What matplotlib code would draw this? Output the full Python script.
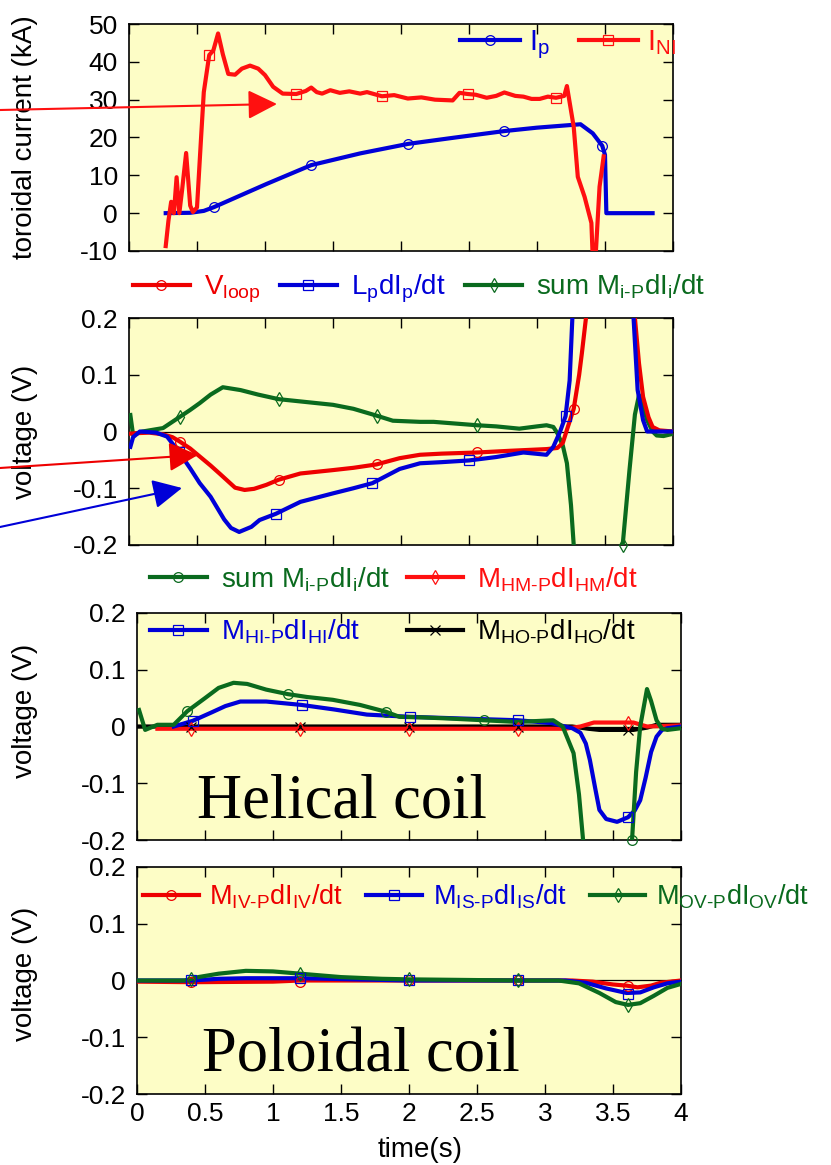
import numpy as np
import matplotlib
matplotlib.use('Agg')
import matplotlib.pyplot as plt
from matplotlib.lines import Line2D

plt.rcParams['font.family'] = ['Liberation Sans', 'DejaVu Sans']
plt.rcParams['mathtext.fontset'] = 'custom'
plt.rcParams['mathtext.rm'] = 'Liberation Sans'
plt.rcParams['mathtext.it'] = 'Liberation Sans'
plt.rcParams['mathtext.default'] = 'regular'
plt.rcParams['axes.unicode_minus'] = False

# ---- panel 1: toroidal current (kA)
ip_t = [0.27, 0.45, 0.55, 0.625, 0.77, 1.01, 1.34, 1.70, 2.05, 2.4, 2.76, 3.0, 3.32, 3.41, 3.48, 3.50, 3.51, 3.85]
ip_y = [0, 0.1, 0.6, 1.6, 3.9, 7.7, 12.7, 15.8, 18.3, 20.0, 21.7, 22.6, 23.5, 21.1, 17.8, 15.4, 0, 0]
ip_mt = [0.625, 1.34, 2.05, 2.76, 3.48]
ip_my = [1.6, 12.7, 18.3, 21.7, 17.8]

ini_t = [0.27, 0.29, 0.31, 0.33, 0.35, 0.37, 0.39, 0.42, 0.45, 0.47, 0.50, 0.53, 0.55, 0.59, 0.62, 0.655,
         0.69, 0.73, 0.78, 0.83, 0.89, 0.95, 1.0, 1.06, 1.13, 1.23, 1.30, 1.34, 1.38, 1.42, 1.48, 1.55, 1.62,
         1.70, 1.75, 1.86, 1.95, 2.05, 2.15, 2.25, 2.38, 2.43, 2.49, 2.55, 2.63, 2.70, 2.76, 2.84, 2.90, 2.96,
         3.02, 3.08, 3.14, 3.20, 3.22, 3.27, 3.30, 3.35, 3.40, 3.41, 3.43, 3.46, 3.49]
ini_y = [-8.7, -2, 3, 0, 9.5, 0, 6, 15.9, 2, 0.3, 1.5, 20, 32, 41.8, 43, 47.5,
         42, 36.8, 36.6, 38.2, 39.0, 38.2, 36.5, 33.4, 31.6, 31.5, 32.3, 33.2, 32.0, 31.6, 32.5, 31.8, 32.2,
         31.6, 32.0, 30.9, 31.2, 30.3, 30.6, 30.0, 29.8, 31.8, 31.5, 31.3, 30.5, 31.0, 31.9, 31.0, 30.8, 30.2,
         30.2, 30.8, 30.5, 31.0, 33.6, 22.8, 9.6, 4.3, -2.6, -12, -12, 7, 15]
ini_mt = [0.59, 1.23, 1.86, 2.49, 3.14]
ini_my = [41.8, 31.5, 30.9, 31.5, 30.5]

# ---- panel 2: loop voltage balance (V)
vl_t = [0.0, 0.05, 0.15, 0.25, 0.32, 0.375, 0.45, 0.52, 0.6, 0.67, 0.78, 0.85, 0.92, 1.01, 1.10, 1.26,
        1.5, 1.65, 1.82, 1.99, 2.14, 2.3, 2.56, 2.8, 3.07, 3.15, 3.19, 3.22, 3.27, 3.31, 3.33, 3.36, 3.40,
        3.70, 3.72, 3.75, 3.78, 3.82, 3.85, 3.9, 4.0]
vl_y = [-0.004, -0.003, -0.002, -0.005, -0.010, -0.018, -0.030, -0.044, -0.060, -0.075, -0.099, -0.103,
        -0.101, -0.094, -0.085, -0.074, -0.068, -0.064, -0.058, -0.047, -0.041, -0.039, -0.037, -0.034,
        -0.031, -0.029, -0.02, 0.003, 0.040, 0.10, 0.138, 0.2, 0.6,
        0.6, 0.2, 0.12, 0.061, 0.025, 0.008, 0.002, 0.0]
vl_mt = [0.375, 1.10, 1.82, 2.56, 3.27]
vl_my = [-0.018, -0.085, -0.058, -0.037, 0.040]

lp_t = [0.01, 0.03, 0.08, 0.2, 0.28, 0.37, 0.45, 0.52, 0.6, 0.7, 0.75, 0.81, 0.9, 0.96, 1.08, 1.26, 1.5,
        1.65, 1.79, 1.99, 2.14, 2.3, 2.50, 2.7, 2.90, 3.07, 3.12, 3.17, 3.21, 3.24, 3.26, 3.30,
        3.69, 3.71, 3.74, 3.78, 3.81, 4.0]
lp_y = [-0.027, -0.01, 0.0, -0.002, -0.009, -0.037, -0.065, -0.091, -0.115, -0.155, -0.170, -0.177,
        -0.168, -0.156, -0.145, -0.124, -0.109, -0.100, -0.091, -0.066, -0.056, -0.054, -0.051, -0.045,
        -0.037, -0.041, -0.027, 0.0, 0.027, 0.09, 0.2, 0.6,
        0.6, 0.2, 0.073, 0.02, 0.0, 0.0]
lp_mt = [0.37, 1.08, 1.79, 2.50, 3.21]
lp_my = [-0.037, -0.145, -0.091, -0.051, 0.027]

sm_t = [0.01, 0.03, 0.10, 0.25, 0.375, 0.45, 0.52, 0.6, 0.69, 0.82, 0.95, 1.10, 1.30, 1.50, 1.65, 1.82,
        1.94, 2.14, 2.24, 2.40, 2.56, 2.70, 2.87, 3.0, 3.07, 3.12, 3.15, 3.19, 3.22, 3.25, 3.27, 3.30,
        3.60, 3.63, 3.68, 3.72, 3.75, 3.78, 3.81, 3.85, 3.88, 3.93, 4.0]
sm_y = [0.029, -0.006, 0.0, 0.006, 0.026, 0.038, 0.05, 0.065, 0.078, 0.073, 0.065, 0.057, 0.052, 0.047,
        0.04, 0.028, 0.019, 0.017, 0.017, 0.014, 0.011, 0.009, 0.005, 0.009, 0.011, 0.008, -0.003, -0.025,
        -0.056, -0.13, -0.2, -0.6,
        -0.6, -0.2, -0.068, 0.03, 0.064, 0.045, 0.02, 0.0, -0.007, -0.008, -0.004]
sm_mt = [0.375, 1.10, 1.82, 2.56, 3.63]
sm_my = [0.026, 0.057, 0.028, 0.011, -0.2]

# ---- panel 3: helical coil contributions (V)
hs_t = [0.015, 0.06, 0.15, 0.27, 0.37, 0.5, 0.6, 0.71, 0.81, 0.95, 1.11, 1.25, 1.44, 1.64, 1.83, 1.93,
        2.1, 2.3, 2.55, 2.8, 3.06, 3.13, 3.21, 3.25, 3.28, 3.31, 3.61, 3.64, 3.67, 3.70, 3.75, 3.78, 3.82,
        3.86, 3.90, 4.0]
hs_y = [0.029, -0.006, 0.003, 0.003, 0.027, 0.05, 0.068, 0.077, 0.075, 0.065, 0.057, 0.052, 0.047, 0.038,
        0.026, 0.017, 0.016, 0.014, 0.011, 0.008, 0.011, 0.0, -0.047, -0.12, -0.2, -0.6, -0.6, -0.2, -0.08,
        0.0, 0.066, 0.045, 0.011, -0.004, -0.006, -0.003]
hs_mt = [0.37, 1.11, 1.83, 2.55, 3.64]
hs_my = [0.027, 0.057, 0.026, 0.011, -0.2]

hi_t = [0.27, 0.41, 0.55, 0.65, 0.76, 0.95, 1.21, 1.45, 1.69, 2.01, 2.4, 2.80, 3.05, 3.13, 3.20, 3.26,
        3.30, 3.33, 3.37, 3.40, 3.45, 3.53, 3.61, 3.66, 3.70, 3.74, 3.78, 3.82, 3.86, 3.90, 4.0]
hi_y = [0.0, 0.010, 0.025, 0.036, 0.044, 0.044, 0.038, 0.030, 0.021, 0.017, 0.014, 0.011, 0.006, 0.001,
        -0.003, -0.011, -0.03, -0.059, -0.11, -0.147, -0.163, -0.168, -0.160, -0.148, -0.13, -0.09, -0.045,
        -0.018, -0.006, -0.003, 0.0]
hi_mt = [0.41, 1.21, 2.01, 2.80, 3.61]
hi_my = [0.010, 0.038, 0.017, 0.011, -0.160]

hm_t = [0.15, 3.15, 3.26, 3.36, 3.65, 3.75, 4.0]
hm_y = [-0.004, -0.004, 0.0, 0.007, 0.007, 0.0, 0.002]
hm_mt = [0.40, 1.20, 2.0, 2.80, 3.61]
hm_my = [-0.004, -0.004, -0.004, -0.004, 0.007]

ho_t = [0.0, 3.2, 3.32, 3.40, 3.65, 3.75, 3.82, 4.0]
ho_y = [0.0, 0.0, -0.004, -0.006, -0.006, -0.002, 0.003, 0.003]
ho_mt = [0.40, 1.20, 2.0, 2.80, 3.61]
ho_my = [0.0, 0.0, 0.0, 0.0, -0.006]

# ---- panel 4: poloidal coil contributions (V)
iv_t = [0.0, 0.4, 1.0, 1.2, 2.0, 3.2, 3.35, 3.5, 3.60, 3.68, 3.78, 3.85, 4.0]
iv_y = [-0.002, -0.003, -0.002, 0.0, 0.0, 0.0, -0.002, -0.007, -0.009, -0.012, -0.009, -0.004, 0.0]
iv_mt = [0.40, 1.20, 2.0, 2.80, 3.61]
iv_my = [-0.003, -0.002, 0.0, 0.0, -0.010]

is_t = [0.0, 0.4, 0.6, 0.8, 1.2, 1.6, 2.0, 3.15, 3.3, 3.45, 3.60, 3.70, 3.80, 3.90, 4.0]
is_y = [0.0, 0.0, 0.003, 0.004, 0.004, 0.002, 0.0, 0.0, -0.004, -0.014, -0.022, -0.021, -0.012, -0.005, -0.002]
is_mt = [0.40, 1.20, 2.0, 2.80, 3.61]
is_my = [0.0, 0.004, 0.0, 0.0, -0.023]

ov_t = [0.0, 0.35, 0.45, 0.6, 0.8, 1.0, 1.2, 1.5, 1.8, 2.0, 2.8, 3.1, 3.25, 3.4, 3.52, 3.61, 3.7, 3.8, 3.9, 4.0]
ov_y = [0.0, 0.0, 0.006, 0.012, 0.017, 0.016, 0.012, 0.006, 0.003, 0.002, 0.0, 0.0, -0.005, -0.022,
        -0.038, -0.043, -0.040, -0.027, -0.013, -0.006]
ov_mt = [0.40, 1.20, 2.0, 2.80, 3.61]
ov_my = [0.002, 0.012, 0.002, 0.0, -0.043]

RED = '#ee0000'
RED2 = '#ff1010'
BLUE = '#0000d8'
GREEN = '#0a6a1e'
BG = '#fdfdc6'
W, H = 831, 1165
TICK = 19
LAB = 20
LEG = 20


def draw(ax, t, y, mt, my, c, m):
    ax.plot(t, y, color=c, lw=3, solid_joinstyle='round', zorder=3)
    ax.plot(mt, my, ls='none', marker=m, ms=7, mfc='none', mec=c, mew=0.9, zorder=4, clip_on=False)


def handle(c, m):
    return Line2D([], [], color=c, lw=3, marker=m, ms=7, mfc='none', mec=c, mew=0.9)


def style(ax, ylim, yt, xlab=False):
    ax.set_facecolor(BG)
    ax.set_xlim(0, 4)
    ax.set_ylim(*ylim)
    ax.set_xticks(np.arange(0, 4.01, 0.5))
    ax.set_yticks(yt)
    ax.set_yticklabels(['%g' % v for v in yt])
    ax.set_xticklabels(['%g' % v for v in np.arange(0, 4.01, 0.5)] if xlab else [])
    ax.tick_params(direction='in', length=7, width=1, top=True, right=True, labelsize=TICK)
    ax.tick_params(axis='y', pad=8)
    ax.tick_params(axis='x', pad=6)
    for s in ax.spines.values():
        s.set_linewidth(1.2)


def legend(handles, labels, colors, x, y, ncol, loc='center left', **kw):
    fig.legend(handles, labels, loc=loc, bbox_to_anchor=(x / W, 1 - y / H), ncol=ncol,
               frameon=False, fontsize=kw.pop('fontsize', LEG), handlelength=2.05,
               borderpad=0, borderaxespad=0, labelcolor=colors, **kw)


fig = plt.figure(figsize=(W / 100, H / 100), dpi=100)

def add_ax(l, t, r, b):
    return fig.add_axes([l / W, 1 - b / H, (r - l) / W, (b - t) / H])

ax1 = add_ax(129, 24, 673, 251)
ax2 = add_ax(129, 318, 673, 545)
ax3 = add_ax(137, 613, 681, 840)
ax4 = add_ax(137, 867, 681, 1094)

# panel 1
draw(ax1, ip_t, ip_y, ip_mt, ip_my, BLUE, 'o')
draw(ax1, ini_t, ini_y, ini_mt, ini_my, RED2, 's')
style(ax1, (-10, 50), [-10, 0, 10, 20, 30, 40, 50])
ax1.set_ylabel('toroidal current (kA)', fontsize=LAB)
ax1.yaxis.set_label_coords(-0.167, 0.5)
legend([handle(BLUE, 'o'), handle(RED2, 's')], ['$I_p$', '$I_{NI}$'], [BLUE, RED2],
       460, 45, 2, fontsize=21, handletextpad=0.3, columnspacing=1.0)

# panel 2
ax2.axhline(0, color='k', lw=0.9, zorder=2)
draw(ax2, sm_t, sm_y, sm_mt, sm_my, GREEN, 'd')
draw(ax2, vl_t, vl_y, vl_mt, vl_my, RED, 'o')
draw(ax2, lp_t, lp_y, lp_mt, lp_my, BLUE, 's')
style(ax2, (-0.2, 0.2), [-0.2, -0.1, 0, 0.1, 0.2])
ax2.set_ylabel('voltage (V)', fontsize=LAB)
ax2.yaxis.set_label_coords(-0.167, 0.5)
legend([handle(RED, 'o'), handle(BLUE, 's'), handle(GREEN, 'd')],
       ['$V_{loop}$', '$L_pdI_p/dt$', r'sum $M_{i\text{-}P}dI_i/dt$'], [RED, BLUE, GREEN],
       133, 289, 3, handletextpad=0.5, columnspacing=0.7)

# panel 3
ax3.axhline(0, color='k', lw=0.9, zorder=2)
draw(ax3, ho_t, ho_y, ho_mt, ho_my, 'k', 'x')
draw(ax3, hm_t, hm_y, hm_mt, hm_my, RED2, 'd')
draw(ax3, hi_t, hi_y, hi_mt, hi_my, BLUE, 's')
draw(ax3, hs_t, hs_y, hs_mt, hs_my, GREEN, 'o')
style(ax3, (-0.2, 0.2), [-0.2, -0.1, 0, 0.1, 0.2])
ax3.set_ylabel('voltage (V)', fontsize=LAB)
ax3.yaxis.set_label_coords(-0.182, 0.57)
ax3.text(0.44, -0.16, 'Helical coil', family='Liberation Serif', fontsize=45, va='baseline')
legend([handle(GREEN, 'o'), handle(BLUE, 's'), handle(RED2, 'd'), handle('k', 'x')],
       [r'sum $M_{i\text{-}P}dI_i/dt$', r'$M_{HI\text{-}P}dI_{HI}/dt$',
        r'$M_{HM\text{-}P}dI_{HM}/dt$', r'$M_{HO\text{-}P}dI_{HO}/dt$'],
       [GREEN, BLUE, RED2, 'k'], 150, 565, 2, loc='upper left',
       handletextpad=0.5, columnspacing=0.6, labelspacing=0.86)

# panel 4
ax4.axhline(0, color='k', lw=0.9, zorder=2)
draw(ax4, iv_t, iv_y, iv_mt, iv_my, RED, 'o')
draw(ax4, is_t, is_y, is_mt, is_my, BLUE, 's')
draw(ax4, ov_t, ov_y, ov_mt, ov_my, GREEN, 'd')
style(ax4, (-0.2, 0.2), [-0.2, -0.1, 0, 0.1, 0.2], xlab=True)
ax4.set_ylabel('voltage (V)', fontsize=LAB)
ax4.yaxis.set_label_coords(-0.182, 0.53)
ax4.set_xlabel('time(s)', fontsize=LAB)
ax4.xaxis.set_label_coords(0.52, -0.19)
ax4.text(0.478, -0.161, 'Poloidal coil', family='Liberation Serif', fontsize=45, va='baseline')
legend([handle(RED, 'o'), handle(BLUE, 's'), handle(GREEN, 'd')],
       [r'$M_{IV\text{-}P}dI_{IV}/dt$', r'$M_{IS\text{-}P}dI_{IS}/dt$', r'$M_{OV\text{-}P}dI_{OV}/dt$'],
       [RED, BLUE, GREEN], 143, 897, 3, fontsize=19.5, handletextpad=0.4, columnspacing=0.85)

# arrows coming in from the left edge
def arrow(x0, y0, x1, y1, c):
    fig.add_artist(matplotlib.patches.FancyArrowPatch(
        (x0 / W, 1 - y0 / H), (x1 / W, 1 - y1 / H), transform=fig.transFigure,
        arrowstyle='-|>', mutation_scale=45, color=c, lw=1.5, shrinkA=0, shrinkB=0))

arrow(0, 110, 277, 104, RED2)
arrow(0, 468, 198, 455, RED)
arrow(0, 527, 182, 488, BLUE)

fig.savefig('out.png', dpi=100)
